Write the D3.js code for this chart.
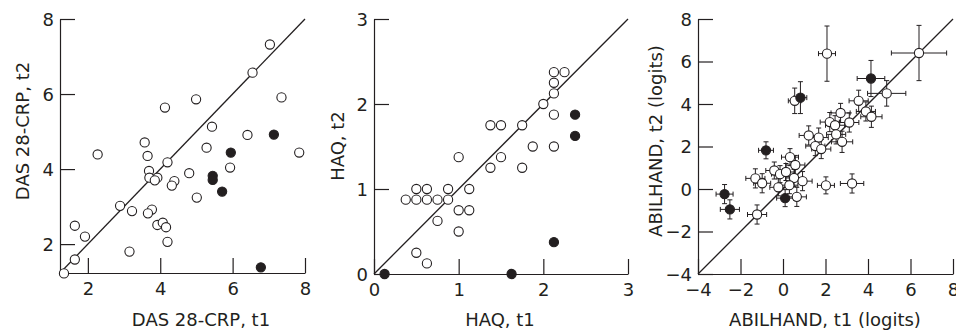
<!DOCTYPE html>
<html>
<head>
<meta charset="utf-8">
<script src="https://cdn.jsdelivr.net/npm/d3@7"></script>
<style>
  body { margin: 0; background: #fff; }
  svg text { font-family: "DejaVu Sans", "Liberation Sans", sans-serif; fill: #231f20; }
  .axis path, .axis line { stroke: #231f20; stroke-width: 1.2; }
  .axis text { font-size: 18px; }
  .axisLb { font-size: 18px; }
</style>
</head>
<body>
<div id="main"></div>
<script>
// panel 1: DAS 28-CRP (flag 1 = filled dot)
var dasT1 = [7.03, 6.55, 7.35, 4.99, 4.13, 5.43, 6.41, 3.57, 5.28, 7.84, 2.27, 3.65, 4.2, 5.93, 3.69, 4.8,
    3.70, 3.92, 3.85, 4.39, 4.32, 5.01, 2.89, 3.22, 3.77, 3.66, 3.92, 4.07, 4.16, 1.64, 1.92, 4.2, 3.15, 1.64, 1.34,
    7.14, 5.95, 5.45, 5.45, 5.71, 6.78];
var dasT2 = [7.32, 6.57, 5.91, 5.86, 5.64, 5.13, 4.91, 4.71, 4.57, 4.44, 4.39, 4.35, 4.18, 4.04, 3.95, 3.89,
    3.77, 3.77, 3.70, 3.68, 3.56, 3.24, 3.02, 2.88, 2.92, 2.82, 2.51, 2.57, 2.45, 2.49, 2.2, 2.06, 1.8, 1.59, 1.22,
    4.92, 4.44, 3.82, 3.71, 3.40, 1.38];
var dasFlag = [0, 0, 0, 0, 0, 0, 0, 0, 0, 0, 0, 0, 0, 0, 0, 0, 0, 0, 0, 0, 0, 0, 0, 0, 0, 0, 0, 0, 0, 0, 0, 0, 0, 0, 0,
    1, 1, 1, 1, 1, 1];

// panel 2: HAQ
var haqT1 = [2.125, 2.25, 2.125, 2.125, 2.0, 2.125, 1.375, 1.5, 1.75, 1.875, 2.125, 1.0, 1.5, 1.375, 1.75,
    0.5, 0.625, 0.875, 1.125, 0.375, 0.5, 0.625, 0.75, 0.875, 1.0, 1.125, 0.75, 1.0, 0.5, 0.625,
    2.375, 2.375, 0.125, 1.625, 2.125];
var haqT2 = [2.375, 2.375, 2.25, 2.125, 2.0, 1.875, 1.75, 1.75, 1.75, 1.5, 1.5, 1.375, 1.375, 1.25, 1.25,
    1.0, 1.0, 1.0, 1.0, 0.875, 0.875, 0.875, 0.875, 0.875, 0.75, 0.75, 0.625, 0.5, 0.25, 0.125,
    1.875, 1.625, 0, 0, 0.375];
var haqFlag = [0, 0, 0, 0, 0, 0, 0, 0, 0, 0, 0, 0, 0, 0, 0, 0, 0, 0, 0, 0, 0, 0, 0, 0, 0, 0, 0, 0, 0, 0,
    1, 1, 1, 1, 1];

// panel 3: ABILHAND (logits) with standard errors
var abilT1 = [6.4, 2.07, 0.55, 4.88, 3.56, 3.9, 4.16, 2.71, 3.12, 2.2, 2.45, 2.5, 2.78, 1.21, 1.68, 1.52, 1.8,
    0.33, 0.58, -0.41, -0.14, 0.14, -1.3, -0.98, 0.52, 0.92, -0.22, 0.3, 2.02, 3.25, 0.65, -1.22,
    4.14, 0.82, -0.8, -2.75, -2.5, 0.1];
var abilT2 = [6.4, 6.37, 4.15, 4.5, 4.15, 3.65, 3.4, 3.58, 3.13, 3.15, 3.0, 2.57, 2.22, 2.52, 2.42, 2.02, 1.88,
    1.5, 1.13, 0.87, 0.7, 0.8, 0.5, 0.27, 0.52, 0.37, 0.08, 0.18, 0.17, 0.26, -0.37, -1.2,
    5.2, 4.3, 1.82, -0.24, -0.96, -0.43];
var abilErrX = [1.3, 0.4, 0.3, 0.9, 0.45, 0.45, 0.5, 0.45, 0.45, 0.45, 0.45, 0.45, 0.5, 0.45, 0.45, 0.45, 0.45,
    0.4, 0.45, 0.4, 0.4, 0.4, 0.45, 0.4, 0.4, 0.45, 0.4, 0.4, 0.4, 0.55, 0.45, 0.45,
    0.65, 0.3, 0.35, 0.4, 0.45, 0.4];
var abilErrY = [1.3, 1.3, 0.6, 0.6, 0.5, 0.45, 0.5, 0.45, 0.45, 0.45, 0.45, 0.45, 0.5, 0.45, 0.45, 0.45, 0.45,
    0.4, 0.45, 0.4, 0.4, 0.4, 0.45, 0.45, 0.4, 0.45, 0.4, 0.4, 0.4, 0.45, 0.45, 0.45,
    0.85, 0.75, 0.4, 0.45, 0.45, 0.4];
var abilFlag = [0, 0, 0, 0, 0, 0, 0, 0, 0, 0, 0, 0, 0, 0, 0, 0, 0, 0, 0, 0, 0, 0, 0, 0, 0, 0, 0, 0, 0, 0, 0, 0,
    1, 1, 1, 1, 1, 1];

var dasTicks = [2, 4, 6, 8];
var haqTicks = [0, 1, 2, 3];
var abilTicks = [-4, -2, 0, 2, 4, 6, 8];

var ctx = { w: 956, h: 331, r: 4.6 };

var svg = d3.select("#main").append("svg")
    .attr("width", ctx.w)
    .attr("height", ctx.h);

var drawPanel = function(p) {
    var xScale = d3.scaleLinear().domain(p.domain).range(p.xr);
    var yScale = d3.scaleLinear().domain(p.domain).range(p.yr);
    var g = svg.append("g");
    var fmt = d3.format("d");

    var xAx = g.append("g").attr("class", "axis")
        .attr("transform", `translate(0,${p.yr[0]})`)
        .call(d3.axisBottom(xScale).tickValues(p.ticks).tickFormat(fmt)
            .tickSizeInner(-15).tickSizeOuter(0).tickPadding(9));
    xAx.selectAll("text").attr("dy", "0.72em");
    var yAx = g.append("g").attr("class", "axis")
        .attr("transform", `translate(${p.xr[0]},0)`)
        .call(d3.axisLeft(yScale).tickValues(p.ticks).tickFormat(fmt)
            .tickSizeInner(-15).tickSizeOuter(0).tickPadding(6));
    yAx.selectAll("text").attr("dy", "0.36em");

    // identity line
    g.append("line")
        .attr("x1", xScale(p.domain[0])).attr("y1", yScale(p.domain[0]))
        .attr("x2", xScale(p.domain[1])).attr("y2", yScale(p.domain[1]))
        .attr("stroke", "#231f20").attr("stroke-width", 1.3);

    // error bars (panel 3 only)
    if (p.ex) {
        p.x.forEach(function(v, i) {
            var cx = xScale(v), cy = yScale(p.y[i]);
            var x0 = xScale(v - p.ex[i]), x1 = xScale(v + p.ex[i]);
            var y0 = yScale(p.y[i] - p.ey[i]), y1 = yScale(p.y[i] + p.ey[i]);
            var e = g.append("g").attr("stroke", "#231f20").attr("stroke-width", 1);
            e.append("line").attr("x1", x0).attr("x2", x1).attr("y1", cy).attr("y2", cy);
            e.append("line").attr("x1", cx).attr("x2", cx).attr("y1", y0).attr("y2", y1);
            e.append("line").attr("x1", x0).attr("x2", x0).attr("y1", cy - 2.5).attr("y2", cy + 2.5);
            e.append("line").attr("x1", x1).attr("x2", x1).attr("y1", cy - 2.5).attr("y2", cy + 2.5);
            e.append("line").attr("x1", cx - 2.5).attr("x2", cx + 2.5).attr("y1", y0).attr("y2", y0);
            e.append("line").attr("x1", cx - 2.5).attr("x2", cx + 2.5).attr("y1", y1).attr("y2", y1);
        });
    }

    p.x.forEach(function(v, i) {
        g.append("circle")
            .attr("cx", xScale(v))
            .attr("cy", yScale(p.y[i]))
            .attr("r", ctx.r)
            .attr("fill", p.flag[i] ? "#231f20" : "#fff")
            .attr("stroke", "#231f20")
            .attr("stroke-width", 1.1);
    });

    // axis titles
    g.append("text")
        .attr("class", "axisLb")
        .attr("x", p.xl[0]).attr("y", p.xl[1])
        .attr("text-anchor", "middle")
        .text(p.xlab);
    g.append("text")
        .attr("class", "axisLb")
        .attr("text-anchor", "middle")
        .attr("transform", `translate(${p.yl[0]},${p.yl[1]}) rotate(-90)`)
        .text(p.ylab);
};

drawPanel({ domain: [1.23, 8], xr: [60, 305], yr: [273, 19], ticks: dasTicks,
    x: dasT1, y: dasT2, flag: dasFlag,
    xlab: "DAS 28-CRP, t1", xl: [201, 326], ylab: "DAS 28-CRP, t2", yl: [29, 131] });
drawPanel({ domain: [0, 3], xr: [374, 628], yr: [274, 19], ticks: haqTicks,
    x: haqT1, y: haqT2, flag: haqFlag,
    xlab: "HAQ, t1", xl: [500, 326], ylab: "HAQ, t2", yl: [344, 146] });
drawPanel({ domain: [-4, 8], xr: [698, 953], yr: [274, 19], ticks: abilTicks,
    x: abilT1, y: abilT2, ex: abilErrX, ey: abilErrY, flag: abilFlag,
    xlab: "ABILHAND, t1 (logits)", xl: [825, 326], ylab: "ABILHAND, t2 (logits)", yl: [662, 141] });
</script>
</body>
</html>
